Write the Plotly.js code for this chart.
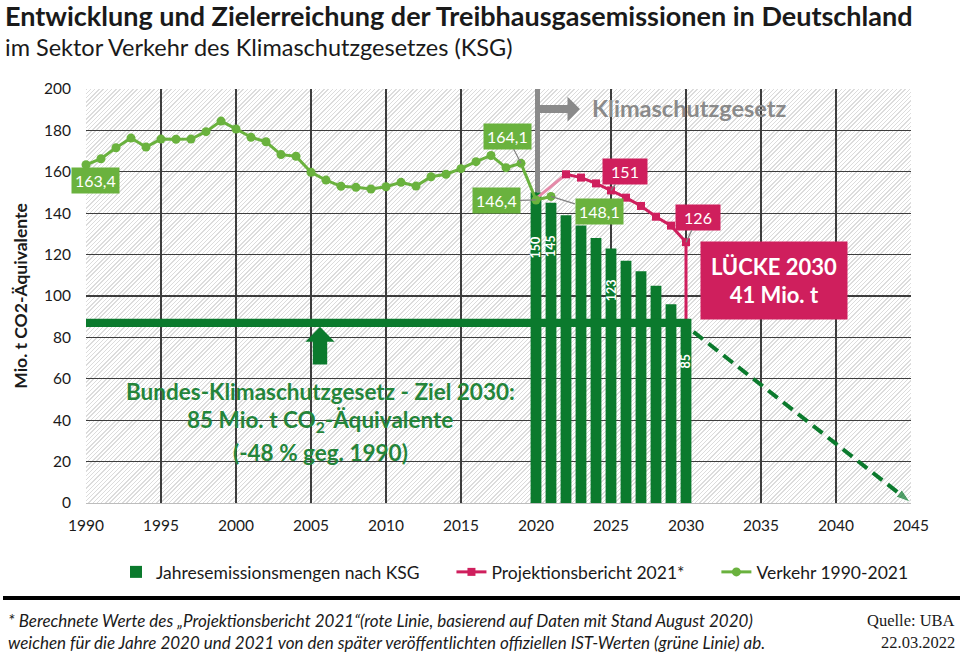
<!DOCTYPE html>
<html>
<head>
<meta charset="utf-8">
<script src="https://cdn.plot.ly/plotly-3.0.1.min.js"></script>
<style>
  html, body { margin: 0; padding: 0; background: #ffffff; }
  #wrap { position: relative; width: 963px; height: 657px; overflow: hidden; }
  #hatch { position: absolute; left: 86px; top: 89px; width: 825px; height: 414px;
           background: repeating-linear-gradient(135deg, #dcdcdc 0px, #dcdcdc 1px, #ffffff 1px, #ffffff 3px); }
  #chart { position: absolute; left: 0; top: 0; width: 963px; height: 657px; }
</style>
</head>
<body>
<div id="wrap"><div id="hatch"></div><div id="chart"></div></div>
<script>
// ---------------- data ----------------
const verkehrYears = [1990,1991,1992,1993,1994,1995,1996,1997,1998,1999,2000,2001,2002,2003,2004,2005,2006,2007,2008,2009,2010,2011,2012,2013,2014,2015,2016,2017,2018,2019,2020,2021];
const verkehr = [163.4,166.3,171.6,176.3,172.0,175.8,175.7,175.8,179.4,184.5,180.7,176.7,174.5,168.3,167.5,159.8,156.0,153.0,152.5,151.7,152.8,154.9,153.1,157.6,158.8,161.5,164.9,167.9,162.0,164.1,146.4,148.1];

const projEarlyYears = [2020,2021,2022];
const projEarly = [147.0,153.0,158.8];
const projYears = [2022,2023,2024,2025,2026,2027,2028,2029,2030];
const proj = [158.8,157.2,154.4,151,147.5,143.5,138.3,134,126];

const ksgYears = [2020,2021,2022,2023,2024,2025,2026,2027,2028,2029,2030];
const ksg = [150,145,139,134,128,123,117,112,105,96,85];

const ziel2030 = 85;
const zielEndYear = 2045;
const xTicks = [1990,1995,2000,2005,2010,2015,2020,2025,2030,2035,2040,2045];
const yTicks = [0,20,40,60,80,100,120,140,160,180,200];

const verkehrLabels = [[1990,'163,4'],[2019,'164,1'],[2020,'146,4'],[2021,'148,1']];
const projLabels = [[2025,'151'],[2030,'126']];
const barLabels = [[2020,'150'],[2021,'145'],[2025,'123'],[2030,'85']];
const lueckeText = 'LÜCKE 2030<br>41 Mio. t';

// ---------------- styles ----------------
const FONT = 'Lato, "Open Sans", sans-serif';
const C_BAR = '#0b7a2d';
const C_GREEN = '#6ab23e';
const C_PINK = '#cf1f5d';
const C_PINK_LIGHT = '#e58aa9';
const C_GRAY = '#8a8a8a';
const C_TXTGREEN = '#24853a';
const PADNAME = '\u00a0\u00a0\u00a0\u00a0\u00a0\u00a0';

// plot-area geometry (pixel helpers for paper coords)
const L = 86, T = 89, W = 825, H = 414;
const PX = p => (p - L) / W;
const PY = p => 1 - (p - T) / H;

const valAt = (xs, ys, x) => ys[xs.indexOf(x)];

// ---------------- traces ----------------
const traces = [
  {
    type: 'bar', x: ksgYears, y: ksg, name: 'Jahresemissionsmengen nach KSG' + PADNAME,
    marker: { color: C_BAR }, width: 0.72, legendrank: 1, hoverinfo: 'skip'
  },
  {
    type: 'scatter', mode: 'lines', x: projEarlyYears, y: projEarly,
    line: { color: C_PINK_LIGHT, width: 3 }, showlegend: false, hoverinfo: 'skip'
  },
  {
    type: 'scatter', mode: 'lines', x: [2030, 2030], y: [valAt(projYears, proj, 2030), ziel2030],
    line: { color: C_PINK, width: 3 }, showlegend: false, hoverinfo: 'skip'
  },
  {
    type: 'scatter', mode: 'lines+markers', x: verkehrYears, y: verkehr, name: 'Verkehr 1990-2021',
    line: { color: C_GREEN, width: 3 }, marker: { color: C_GREEN, size: 9, symbol: 'circle' },
    cliponaxis: false, legendrank: 3, hoverinfo: 'skip'
  },
  {
    type: 'scatter', mode: 'lines+markers', x: projYears, y: proj, name: 'Projektionsbericht 2021*' + PADNAME,
    line: { color: C_PINK, width: 3 }, marker: { color: C_PINK, size: 8, symbol: 'square' },
    legendrank: 2, hoverinfo: 'skip'
  },
  {
    type: 'scatter', mode: 'lines+markers', x: [2030.5, zielEndYear - 0.05], y: [ziel2030 - 2.3, 0.4],
    line: { color: C_BAR, width: 4, dash: '12px,7px' },
    marker: { color: C_BAR, size: [0, 15], symbol: 'arrow', angleref: 'previous' },
    showlegend: false, cliponaxis: false, hoverinfo: 'skip'
  }
];

// ---------------- annotations ----------------
const ann = [];
ann.push({ xref: 'paper', yref: 'paper', x: PX(3), y: PY(15), xanchor: 'left', yanchor: 'middle', showarrow: false,
  text: '<b>Entwicklung und Zielerreichung der Treibhausgasemissionen in Deutschland</b>',
  font: { family: FONT, size: 27, color: '#1a1a1a' } });
ann.push({ xref: 'paper', yref: 'paper', x: PX(3), y: PY(47), xanchor: 'left', yanchor: 'middle', showarrow: false,
  text: 'im Sektor Verkehr des Klimaschutzgesetzes (KSG)',
  font: { family: FONT, size: 23.5, color: '#1a1a1a' } });

// green labels
const greenOff = { 1990: [9, 16, false], 2019: [-14, -27, true], 2020: [-40, 1, true], 2021: [48, 15, true] };
verkehrLabels.forEach(([yr, t]) => {
  const o = greenOff[yr];
  ann.push({ x: yr, y: valAt(verkehrYears, verkehr, yr), text: t, ax: o[0], ay: o[1],
    showarrow: true, arrowhead: 0, arrowwidth: 1.2, arrowcolor: o[2] ? '#808080' : 'rgba(0,0,0,0)',
    bgcolor: C_GREEN, borderpad: 3, font: { family: FONT, size: 16, color: '#ffffff' } });
});
const pinkOff = { 2025: [14, -19], 2030: [12, -25] };
projLabels.forEach(([yr, t]) => {
  const o = pinkOff[yr];
  ann.push({ x: yr, y: valAt(projYears, proj, yr), text: t, ax: o[0], ay: o[1],
    showarrow: true, arrowhead: 0, arrowwidth: 1.2, arrowcolor: '#808080',
    bgcolor: C_PINK, borderpad: 3, width: 38, font: { family: FONT, size: 16, color: '#ffffff' } });
});
// bar value labels (rotated)
const barLabelY = { 2020: 123.4, 2021: 124.2, 2025: 102.8, 2030: 68.3 };
barLabels.forEach(([yr, t]) => {
  ann.push({ x: yr, y: barLabelY[yr], text: '<b>' + t + '</b>', textangle: -90, showarrow: false,
    font: { family: FONT, size: 12.5, color: '#ffffff' } });
});
// Klimaschutzgesetz text
ann.push({ x: 2023.6, y: 190.6, xanchor: 'left', yanchor: 'middle', showarrow: false,
  text: '<b>Klimaschutzgesetz</b>', font: { family: FONT, size: 23.5, color: C_GRAY } });
// Lücke box
ann.push({ x: 2035.86, y: 107.5, text: '<b>' + lueckeText + '</b>', showarrow: false,
  bgcolor: C_PINK, width: 146, height: 77, borderpad: 0, align: 'center',
  font: { family: FONT, size: 22, color: '#ffffff' } });
// target text
const zielLines = [['<b>Bundes-Klimaschutzgesetz - Ziel 2030:</b>', 53.8],
                   ['<b>85 Mio. t CO<sub>2</sub>-Äquivalente</b>', 39.4],
                   ['<b>(-48 % geg. 1990)</b>', 24.4]];
zielLines.forEach(([t, y]) => ann.push({ x: 2005.6, y: y, text: t, showarrow: false,
  font: { family: FONT, size: 22.5, color: C_TXTGREEN } }));
// footnote
ann.push({ xref: 'paper', yref: 'paper', x: PX(6), y: PY(620), xanchor: 'left', yanchor: 'middle', showarrow: false,
  text: '<i>* Berechnete Werte des „Projektionsbericht 2021“(rote Linie, basierend auf Daten mit Stand August 2020)</i>',
  font: { family: FONT, size: 17, color: '#1a1a1a' } });
ann.push({ xref: 'paper', yref: 'paper', x: PX(6), y: PY(642), xanchor: 'left', yanchor: 'middle', showarrow: false,
  text: '<i>weichen für die Jahre 2020 und 2021 von den später veröffentlichten offiziellen IST-Werten (grüne Linie) ab.</i>',
  font: { family: FONT, size: 17, color: '#1a1a1a' } });
ann.push({ xref: 'paper', yref: 'paper', x: PX(957), y: PY(620), xanchor: 'right', yanchor: 'middle', showarrow: false,
  text: 'Quelle: UBA', font: { family: '"Liberation Serif", serif', size: 16.5, color: '#1a1a1a' } });
ann.push({ xref: 'paper', yref: 'paper', x: PX(957), y: PY(642), xanchor: 'right', yanchor: 'middle', showarrow: false,
  text: '22.03.2022', font: { family: '"Liberation Serif", serif', size: 16.5, color: '#1a1a1a' } });

// ---------------- shapes ----------------
const shapes = [
  { type: 'line', xref: 'x', yref: 'y', x0: 2020.1, x1: 2020.1, y0: 201, y1: valAt(ksgYears, ksg, 2020),
    line: { color: C_GRAY, width: 5 }, layer: 'between' },
  { type: 'path', xref: 'x', yref: 'y', layer: 'between', fillcolor: C_GRAY, line: { width: 0 },
    path: 'M 2020.1 188.4 L 2022.1 188.4 L 2022.1 184.2 L 2022.93 190.3 L 2022.1 196.3 L 2022.1 192.3 L 2020.1 192.3 Z' },
  { type: 'rect', xref: 'x', yref: 'y', x0: 1990, x1: 2030.36, y0: ziel2030, y1: ziel2030 + 4,
    fillcolor: C_BAR, line: { width: 0 }, layer: 'above' },
  { type: 'path', xref: 'x', yref: 'y', layer: 'above', fillcolor: C_BAR, line: { width: 0 },
    path: 'M 2005.12 66.9 L 2005.12 77.9 L 2004.63 77.9 L 2005.6 85.1 L 2006.57 77.9 L 2006.08 77.9 L 2006.08 66.9 Z' },
  { type: 'line', xref: 'paper', yref: 'paper', x0: PX(3), x1: PX(960), y0: PY(598), y1: PY(598),
    line: { color: '#000000', width: 4 } }
];

const layout = {
  width: 963, height: 657,
  margin: { l: L, r: 963 - L - W, t: T, b: 657 - T - H, pad: 0, autoexpand: false },
  paper_bgcolor: 'rgba(0,0,0,0)', plot_bgcolor: 'rgba(0,0,0,0)',
  font: { family: FONT, size: 15, color: '#1a1a1a' },
  hovermode: false,
  barmode: 'overlay',
  xaxis: {
    range: [1990, 2045], tickvals: xTicks, ticktext: xTicks.map(String), tickangle: 0,
    showgrid: true, gridcolor: '#3d3d3d', gridwidth: 1.3, zeroline: false,
    showline: true, linecolor: '#bdbdbd', linewidth: 1, ticks: '', ticklabelstandoff: 8,
    tickfont: { family: FONT, size: 15.5, color: '#1a1a1a' }, automargin: false
  },
  yaxis: {
    range: [0, 200], tickvals: yTicks, showgrid: true, gridcolor: '#3d3d3d', gridwidth: 1.3,
    zeroline: false, showline: false, ticks: '', ticklabelstandoff: 14, automargin: false,
    tickfont: { family: FONT, size: 15.5, color: '#1a1a1a' },
    title: { text: '<b>Mio. t CO2-Äquivalente</b>', font: { family: FONT, size: 17.5, color: '#1a1a1a' }, standoff: 11 }
  },
  legend: {
    orientation: 'h', x: PX(116), xanchor: 'left',
    y: PY(572), yanchor: 'middle', font: { family: FONT, size: 17.5, color: '#1a1a1a' },
    bgcolor: 'rgba(0,0,0,0)', traceorder: 'normal'
  },
  annotations: ann.map(a => Object.assign({ xref: 'x', yref: 'y' }, a)),
  shapes: shapes
};

Plotly.newPlot('chart', traces, layout, { displayModeBar: false, staticPlot: true });
</script>
</body>
</html>
